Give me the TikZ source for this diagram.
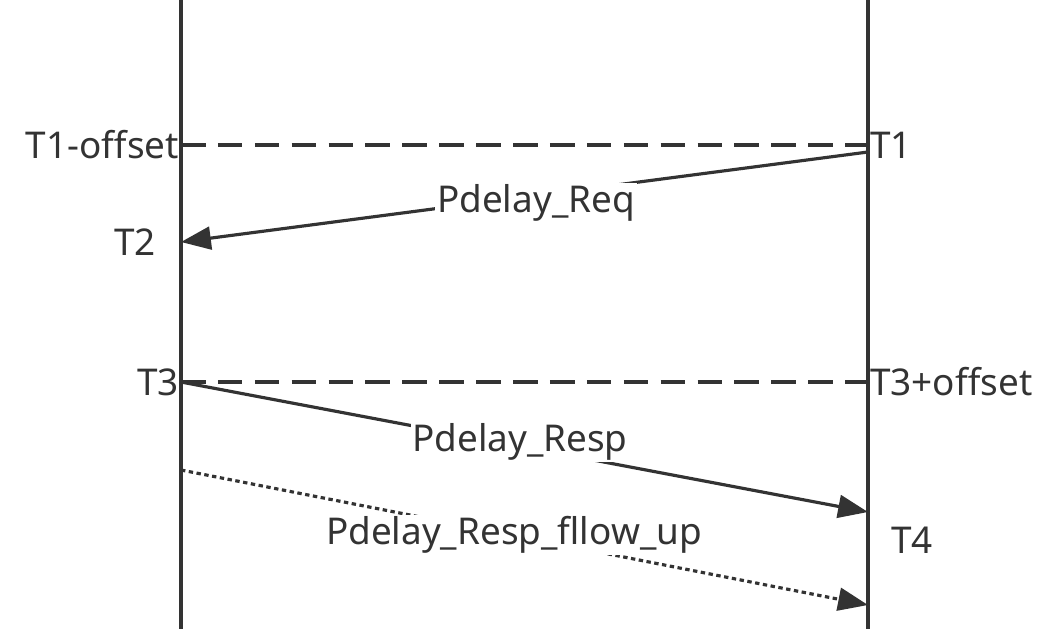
\documentclass[tikz,border=0pt]{standalone}
\usepackage{fontspec}
\setmainfont{Noto Sans}
\usetikzlibrary{arrows.meta}
\definecolor{ink}{HTML}{333333}
\tikzset{
  lbl/.style={text=ink, font=\fontsize{21}{24}\selectfont, inner sep=1pt},
  msg/.style={ink, line width=1.8pt, -{Triangle[length=17pt,width=13pt]}},
  refline/.style={ink, line width=1.8pt, dash pattern=on 14pt off 7pt},
}
\begin{document}
\begin{tikzpicture}[x=0.02cm,y=-0.02cm]
\useasboundingbox (0,0) rectangle (1058,629);
% time lines
\coordinate (Ltop) at (181,0);  \coordinate (Lbot) at (181,629);
\coordinate (Rtop) at (868,0);  \coordinate (Rbot) at (868,629);
\draw[ink, line width=2pt] (Ltop) -- (Lbot);
\draw[ink, line width=2pt] (Rtop) -- (Rbot);
% reference instants
\coordinate (A1) at (181,145); \coordinate (B1) at (868,145);
\coordinate (A3) at (181,382); \coordinate (B3) at (868,382);
\draw[refline] (A1) -- (B1);
\draw[refline] (A3) -- (B3);
\node[lbl, anchor=east] (t1off) at (A1) {T1-offset};
\node[lbl, anchor=west] (t1) at (B1) {T1};
\node[lbl, anchor=east] (t3) at (A3) {T3};
\node[lbl, anchor=west] (t3off) at (B3) {T3+offset};
\node[lbl] (t2) at (135,242) {T2};
\node[lbl] (t4) at (912,540) {T4};
% messages
\coordinate (reqS) at (868,152); \coordinate (reqE) at (181,242);
\coordinate (rspE) at (868,512);
\coordinate (fupS) at (181,470); \coordinate (fupE) at (868,605);
\draw[msg] (reqS) -- (reqE);
\draw[msg] (A3) -- (rspE);
\draw[msg, dash pattern=on 2.5pt off 2pt] (fupS) -- (fupE);
\node[lbl, fill=white] (req) at (536,203) {Pdelay\_Req};
\node[lbl, fill=white] (rsp) at (520,442) {Pdelay\_Resp};
\node[lbl, fill=white] (fup) at (514,535) {Pdelay\_Resp\_fllow\_up};
\end{tikzpicture}
\end{document}
